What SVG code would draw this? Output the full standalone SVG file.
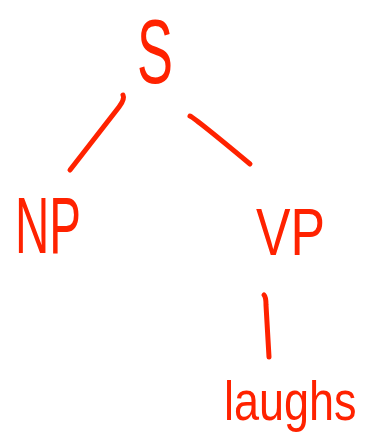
<svg xmlns="http://www.w3.org/2000/svg" width="366" height="439" viewBox="0 0 366 439">
  <style>
    .lbl { font-family: "Liberation Sans", Arial, sans-serif; fill: #ff2200; }
    .edge { fill: none; stroke: #ff2200; stroke-width: 5; stroke-linecap: round; stroke-linejoin: round; }
  </style>
  <rect width="366" height="439" fill="#ffffff"/>
  <g id="edges">
    <path class="edge" d="M123,95 Q125,99 119,107 L70,170"/>
    <path class="edge" d="M190,116 Q196,119 250,164"/>
    <path class="edge" d="M264,295 Q266,297 266,305 L269,357"/>
  </g>
  <g id="node-s">
    <text class="lbl" x="137" y="83" font-size="90" textLength="36" lengthAdjust="spacingAndGlyphs">S</text>
  </g>
  <g id="node-np">
    <text class="lbl" x="15" y="253" font-size="80" textLength="66" lengthAdjust="spacingAndGlyphs">NP</text>
  </g>
  <g id="node-vp">
    <text class="lbl" x="256" y="255" font-size="66" textLength="69" lengthAdjust="spacingAndGlyphs">VP</text>
  </g>
  <g id="node-laughs" transform="translate(224,420) scale(1,1.25)">
    <text class="lbl" x="0" y="0" font-size="45">laughs</text>
  </g>
</svg>
